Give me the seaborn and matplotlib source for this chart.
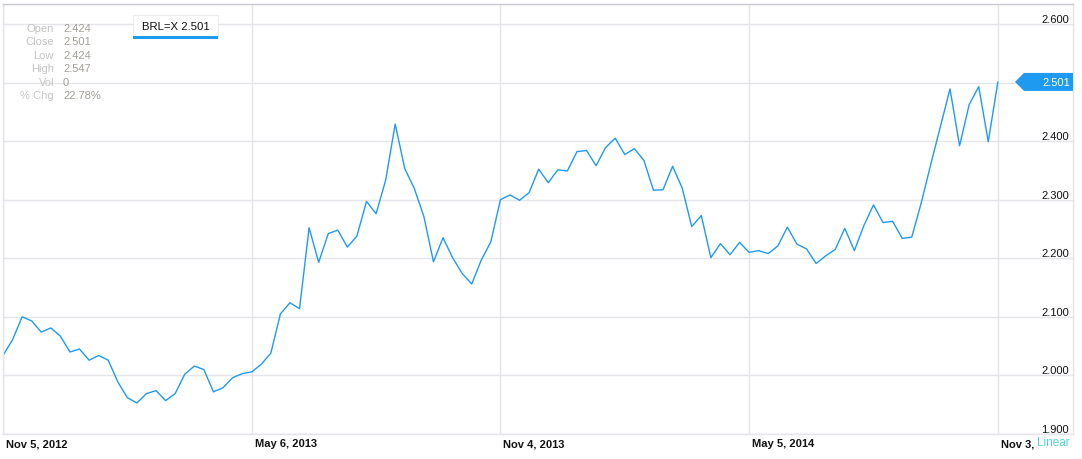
import pandas as pd
import matplotlib
matplotlib.use("Agg")
import matplotlib.pyplot as plt
from matplotlib.patches import Polygon
from matplotlib.transforms import ScaledTranslation, blended_transform_factory
import seaborn as sns

# Weekly BRL=X close, Nov 5 2012 - Nov 3 2014
start_date = "2012-11-05"
close = [
    2.034, 2.061, 2.100, 2.093, 2.074, 2.081, 2.067, 2.040, 2.045, 2.026,
    2.034, 2.026, 1.989, 1.962, 1.953, 1.969, 1.974, 1.957, 1.969, 2.002,
    2.016, 2.010, 1.972, 1.979, 1.996, 2.003, 2.006, 2.019, 2.038, 2.105,
    2.124, 2.114, 2.252, 2.193, 2.242, 2.248, 2.219, 2.238, 2.297, 2.276,
    2.333, 2.429, 2.353, 2.319, 2.271, 2.194, 2.235, 2.201, 2.174, 2.156,
    2.197, 2.228, 2.300, 2.308, 2.299, 2.312, 2.352, 2.329, 2.351, 2.349,
    2.382, 2.384, 2.358, 2.389, 2.405, 2.377, 2.387, 2.367, 2.316, 2.317,
    2.357, 2.320, 2.254, 2.273, 2.201, 2.225, 2.206, 2.227, 2.210, 2.213,
    2.208, 2.221, 2.253, 2.224, 2.216, 2.191, 2.204, 2.215, 2.251, 2.213,
    2.256, 2.291, 2.261, 2.263, 2.234, 2.236, 2.295, 2.361, 2.425, 2.489,
    2.392, 2.462, 2.493, 2.399, 2.501,
]
x_ticks = ["2012-11-05", "2013-05-06", "2013-11-04", "2014-05-05", "2014-11-03"]
# last label is cut short by the "Linear" toggle in the original
x_tick_labels = ["Nov 5, 2012", "May 6, 2013", "Nov 4, 2013", "May 5, 2014", "Nov 3,"]
y_ticks = [1.9, 2.0, 2.1, 2.2, 2.3, 2.4, 2.5, 2.6]
info_labels = ["Open", "Close", "Low", "High", "Vol", "% Chg"]
info_values = ["2.424", "2.501", "2.424", "2.547", "0", "22.78%"]
symbol = "BRL=X"

LINE = "#1e9bf0"
GRID = "#e4e4ea"

sns.set_style("white")
plt.rcParams["font.family"] = ["Liberation Sans", "DejaVu Sans"]

df = pd.DataFrame({
    "Date": pd.date_range(start_date, periods=len(close), freq="7D"),
    "Close": close,
})
last = close[-1]

fig = plt.figure(figsize=(10.82, 4.6), dpi=100)
ax = fig.add_axes([3 / 1082, 25 / 460, 1070 / 1082, 430 / 460])

sns.lineplot(data=df, x="Date", y="Close", ax=ax, color=LINE, linewidth=1.0)

ax.set_xlim(pd.Timestamp(start_date), pd.Timestamp(start_date) + pd.Timedelta(days=783))
ax.set_ylim(1.9, 2.634)
ax.set_xlabel("")
ax.set_ylabel("")

# grid
ax.set_xticks(pd.to_datetime(x_ticks))
ax.set_xticklabels(x_tick_labels)
ax.set_yticks(y_ticks)
# the price tag hides the label it sits on
ax.set_yticklabels(["" if abs(v - last) < 0.01 else f"{v:.3f}" for v in y_ticks])
ax.grid(True, color=GRID, linewidth=1.0)
ax.set_axisbelow(True)

for side in ["left", "bottom", "right"]:
    ax.spines[side].set_color(GRID)
    ax.spines[side].set_linewidth(1.0)
ax.spines["top"].set_color("#c8c8d0")
ax.spines["top"].set_linewidth(1.0)

# y labels inside the plot, right aligned above the gridline
ax.yaxis.tick_right()
ax.tick_params(axis="y", length=0, pad=-3, labelsize=8, labelcolor="#111111")
for lbl in ax.get_yticklabels():
    lbl.set_ha("right")
    lbl.set_va("bottom")

ax.tick_params(axis="x", length=0, pad=3, labelsize=8, labelcolor="#111111")
shift = ScaledTranslation(3 / 100, 0, fig.dpi_scale_trans)
for lbl in ax.get_xticklabels():
    lbl.set_ha("left")
    lbl.set_fontweight("bold")
    lbl.set_transform(lbl.get_transform() + shift)

# "Linear" toggle
fig.text(1037 / 1082, 1 - 443 / 460, "Linear", fontsize=8.5, color="#4fd8d0",
         ha="left", va="center")

# OHLC info block
for i, (lab, val) in enumerate(zip(info_labels, info_values)):
    y = 1 - (29 + i * 13.4) / 460
    fig.text(54 / 1082, y, lab, fontsize=8, color="#c4c4c4", ha="right", va="center")
    fig.text(63 / 1082, y, val, fontsize=8, color="#a29e98", ha="left", va="center")

# legend chip
fig.patches.append(plt.Rectangle((133 / 1082, 1 - 39 / 460), 85 / 1082, 23 / 460,
                                 transform=fig.transFigure, facecolor="white",
                                 edgecolor="#ececec", linewidth=0.8))
fig.patches.append(plt.Rectangle((133 / 1082, 1 - 39.5 / 460), 85 / 1082, 2.5 / 460,
                                 transform=fig.transFigure, facecolor=LINE,
                                 edgecolor="none"))
fig.text(175.5 / 1082, 1 - 27 / 460, f"{symbol} {last:.3f}", fontsize=8.2,
         color="#111111", ha="center", va="center")

# last price tag on the right
tr = blended_transform_factory(ax.transAxes, ax.transData)
half = 9 / 430 * (2.634 - 1.9)
tip = (1015 - 3) / 1070
base = (1024 - 3) / 1070
tag = Polygon([(tip, last), (base, last + half), (1.0, last + half),
               (1.0, last - half), (base, last - half)],
              closed=True, transform=tr, facecolor=LINE, edgecolor="none",
              clip_on=False, zorder=5)
ax.add_patch(tag)
ax.text(0.9975, last, f"{last:.3f}", transform=tr, fontsize=8, color="white",
        ha="right", va="center", zorder=6)

fig.savefig("out.png", dpi=100)
